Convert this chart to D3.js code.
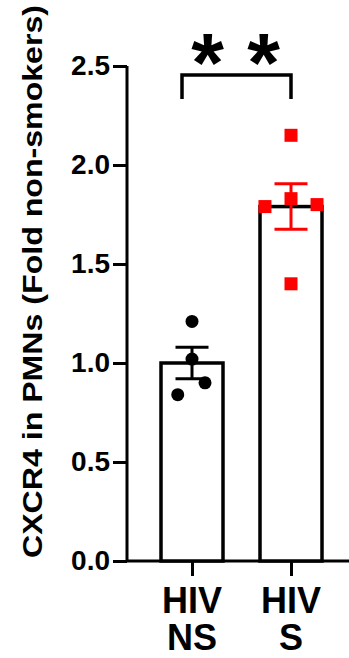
<!DOCTYPE html>
<html>
<head>
<meta charset="utf-8">
<script src="https://cdn.jsdelivr.net/npm/d3@7"></script>
<style>
  body { margin: 0; background: #fff; }
  svg text { font-family: "Liberation Sans", Arial, sans-serif; font-weight: bold; }
</style>
</head>
<body>
<div id="chart"></div>
<script>
// groups and values
const groups = ['HIV NS', 'HIV S'];
const groupLines = [['HIV', 'NS'], ['HIV', 'S']];
const groupColors = ['#000000', '#ff0000'];
const means = [1.00, 1.79];
const sems = [0.08, 0.115];
// individual points: value and small horizontal offset (fraction of bar width)
const nsPoints = [1.21, 1.02, 0.90, 0.84];
const nsJitter = [0, 0, 0.21, -0.23];
const sPoints = [2.15, 1.83, 1.79, 1.80, 1.40];
const sJitter = [0, 0, -0.42, 0.42, 0];
const yTicks = [0.0, 0.5, 1.0, 1.5, 2.0, 2.5];
const sigLabel = '* *';

const W = 349, H = 658;
const svg = d3.select('#chart').append('svg')
  .attr('width', W).attr('height', H);

const y = d3.scaleLinear().domain([0, 2.5]).range([561, 66]);
const x = d3.scalePoint().domain(groups).range([192, 291]);
const barW = 62;
const axisX = 127;

// y axis
const yAxis = svg.append('g')
  .attr('transform', `translate(${axisX},0)`)
  .call(d3.axisLeft(y).tickValues(yTicks).tickFormat(d3.format('.1f'))
    .tickSize(14).tickPadding(3));
yAxis.select('.domain').attr('stroke-width', 3).attr('d', `M0,${y(2.5)}V${y(0)}`);
yAxis.selectAll('.tick line').attr('stroke-width', 3);
yAxis.selectAll('.tick text').attr('font-size', 28).attr('fill', '#000');

// x axis
const xAxis = svg.append('g')
  .attr('transform', `translate(0,${y(0)})`)
  .call(d3.axisBottom(x).tickSize(15).tickFormat(''));
xAxis.select('.domain').attr('stroke-width', 3).attr('d', `M${axisX},0H${W + 2}`);
xAxis.selectAll('.tick line').attr('stroke-width', 3);

// x labels
groups.forEach((g, i) => {
  const t = svg.append('text')
    .attr('x', x(g)).attr('y', 613)
    .attr('text-anchor', 'middle')
    .attr('font-size', 36).attr('fill', '#000');
  groupLines[i].forEach((line, j) => {
    t.append('tspan').attr('x', x(g)).attr('dy', j === 0 ? 0 : 37).text(line);
  });
});

// y label
svg.append('text')
  .attr('transform', `translate(42,${(5 + 558) / 2}) rotate(-90)`)
  .attr('text-anchor', 'middle')
  .attr('font-size', 28)
  .attr('textLength', 553).attr('lengthAdjust', 'spacingAndGlyphs')
  .attr('fill', '#000')
  .text('CXCR4 in PMNs (Fold non-smokers)');

// bars
svg.selectAll('rect.bar')
  .data(groups)
  .enter().append('rect')
  .attr('class', 'bar')
  .attr('x', d => x(d) - barW / 2)
  .attr('y', (d, i) => y(means[i]))
  .attr('width', barW)
  .attr('height', (d, i) => y(0) - y(means[i]))
  .attr('fill', '#fff')
  .attr('stroke', '#000')
  .attr('stroke-width', 3.5);

// points
svg.selectAll('circle.pt')
  .data(nsPoints)
  .enter().append('circle')
  .attr('class', 'pt')
  .attr('cx', (d, i) => x(groups[0]) + nsJitter[i] * barW)
  .attr('cy', d => y(d))
  .attr('r', 6.5)
  .attr('fill', groupColors[0]);

svg.selectAll('rect.pt')
  .data(sPoints)
  .enter().append('rect')
  .attr('class', 'pt')
  .attr('x', (d, i) => x(groups[1]) + sJitter[i] * barW - 6.5)
  .attr('y', d => y(d) - 6.5)
  .attr('width', 13).attr('height', 13)
  .attr('fill', groupColors[1]);

// error bars (SEM)
const capW = 33;
groups.forEach((g, i) => {
  const e = svg.append('g')
    .attr('stroke', groupColors[i]).attr('stroke-width', 3);
  const cx = x(g);
  e.append('line').attr('x1', cx).attr('x2', cx)
    .attr('y1', y(means[i] + sems[i])).attr('y2', y(means[i] - sems[i]));
  [means[i] + sems[i], means[i] - sems[i]].forEach(v => {
    e.append('line').attr('x1', cx - capW / 2).attr('x2', cx + capW / 2)
      .attr('y1', y(v)).attr('y2', y(v));
  });
});

// significance bracket
const bx1 = x(groups[0]) - 10, bx2 = x(groups[1]);
svg.append('path')
  .attr('d', `M${bx1},${y(2.333)}V${y(2.455)}H${bx2}V${y(2.333)}`)
  .attr('fill', 'none').attr('stroke', '#000').attr('stroke-width', 3.5);

svg.append('text')
  .attr('x', (bx1 + bx2) / 2 - 1).attr('y', 92)
  .attr('text-anchor', 'middle')
  .attr('font-size', 84)
  .attr('fill', '#000')
  .text(sigLabel);
</script>
</body>
</html>
